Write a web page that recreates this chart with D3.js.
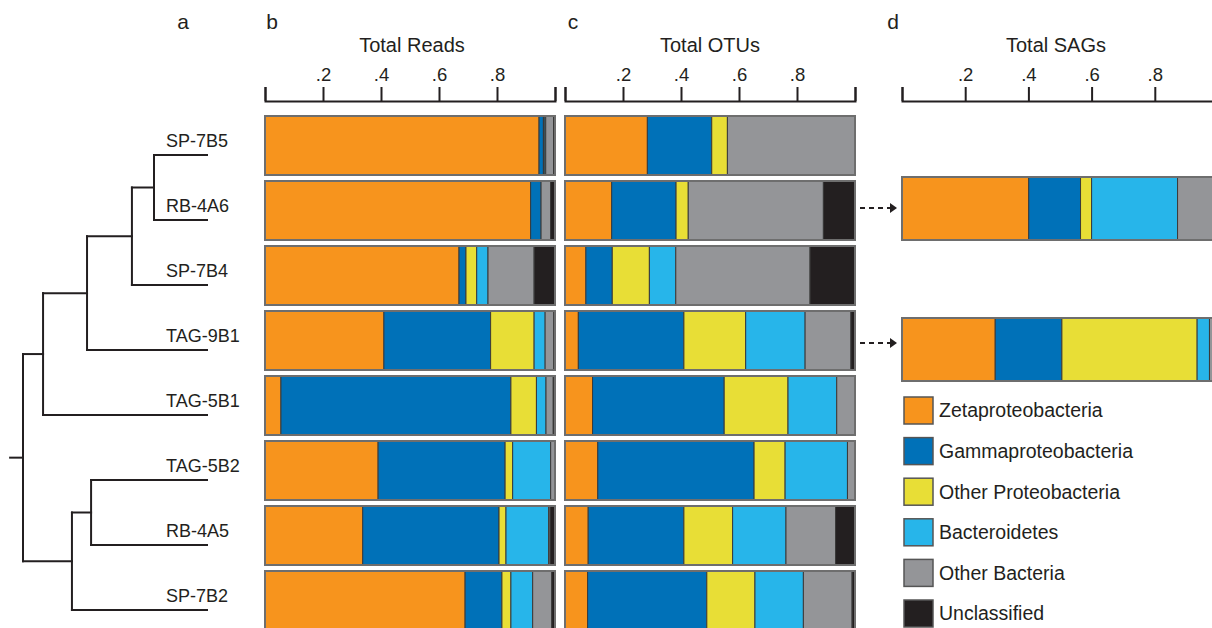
<!DOCTYPE html>
<html><head><meta charset="utf-8">
<script src="https://cdn.jsdelivr.net/npm/d3@7"></script>
<style>body{margin:0;background:#fff}svg{display:block;font-family:"Liberation Sans",Arial,Helvetica,sans-serif}</style>
</head><body><svg id="chart" width="1212" height="628"></svg>
<script>
// ---------------- data ----------------
const samples = ["SP-7B5","RB-4A6","SP-7B4","TAG-9B1","TAG-5B1","TAG-5B2","RB-4A5","SP-7B2"];
const groups = ["Zetaproteobacteria","Gammaproteobacteria","Other Proteobacteria","Bacteroidetes","Other Bacteria","Unclassified"];
const groupColors = ["#F7941D","#0071B8","#E8DE36","#27B5EA","#949598","#231F20"];
const tickValues = [0, 0.2, 0.4, 0.6, 0.8, 1];
const tickLabels = ["", ".2", ".4", ".6", ".8", ""];

// Total Reads (panel b)
const readsZeta  = [0.945,0.916,0.669,0.410,0.055,0.390,0.337,0.690];
const readsGamma = [0.015,0.036,0.024,0.368,0.793,0.438,0.470,0.127];
const readsOProt = [0.003,0.000,0.037,0.150,0.088,0.026,0.024,0.031];
const readsBact  = [0.005,0.000,0.039,0.038,0.033,0.131,0.147,0.075];
const readsOBact = [0.027,0.033,0.159,0.030,0.025,0.015,0.005,0.066];
const readsUncl  = [0.005,0.015,0.072,0.004,0.006,0.000,0.017,0.011];

// Total OTUs (panel c)
const otuZeta  = [0.284,0.161,0.072,0.046,0.095,0.113,0.080,0.078];
const otuGamma = [0.222,0.222,0.091,0.364,0.454,0.539,0.330,0.411];
const otuOProt = [0.054,0.042,0.128,0.213,0.220,0.107,0.168,0.166];
const otuBact  = [0.000,0.000,0.091,0.205,0.168,0.215,0.184,0.167];
const otuOBact = [0.440,0.466,0.463,0.158,0.063,0.026,0.171,0.168];
const otuUncl  = [0.000,0.109,0.155,0.014,0.000,0.000,0.067,0.010];

// Total SAGs (panel d)
const sagSamples = ["RB-4A6","TAG-9B1"];
const sagZeta  = [0.401,0.295];
const sagGamma = [0.164,0.211];
const sagOProt = [0.035,0.428];
const sagBact  = [0.272,0.039];
const sagOBact = [0.128,0.027];
const sagUncl  = [0.000,0.000];

// Dendrogram (panel a): node, parent, relative branch position (root 0, leaves 1)
const treeIds     = ["root","n1","n2","n3","n4","SP-7B5","RB-4A6","SP-7B4","TAG-9B1","TAG-5B1","n5","n6","TAG-5B2","RB-4A5","SP-7B2"];
const treeParents = ["","root","n1","n2","n3","n4","n4","n3","n2","n1","root","n5","n6","n6","n5"];
const treeDist    = [0,0.109,0.348,0.592,0.712,1,1,1,1,1,0.266,0.370,1,1,1];

// ---------------- layout ----------------
const svg = d3.select("#chart");
const ink = "#231F20";
const axisY = 101;

const y = d3.scaleBand().domain(samples).range([116, 116 + 8*65 - 6]).paddingInner(6/65).paddingOuter(0);
const xB = d3.scaleLinear().domain([0,1]).range([265,555]);
const xC = d3.scaleLinear().domain([0,1]).range([565,855]);
const xD = d3.scaleLinear().domain([0,1]).range([902,1218]);
const color = d3.scaleOrdinal().domain(groups).range(groupColors);

function rows(names, arrs){
  return names.map((s,i)=>{ const o={sample:s}; groups.forEach((g,k)=>o[g]=arrs[k][i]); return o; });
}
const stack = d3.stack().keys(groups);

function drawAxis(x, title, cx){
  const g = svg.append("g").attr("transform",`translate(0,${axisY})`)
    .call(d3.axisTop(x).tickValues(tickValues).tickSize(14).tickSizeOuter(14).tickPadding(6)
      .tickFormat((d,i)=>tickLabels[i]));
  g.select(".domain").attr("stroke",ink).attr("stroke-width",2);
  g.selectAll(".tick line").attr("stroke",ink).attr("stroke-width",2);
  g.selectAll(".tick text").attr("fill",ink).attr("font-size",18.5).attr("font-family",'"Liberation Sans",Arial,sans-serif');
  svg.append("text").attr("x",cx).attr("y",52).attr("text-anchor","middle")
    .attr("font-size",20).attr("fill",ink).text(title);
}

function drawBars(x, data, yTop, h){
  const series = stack(data);
  const g = svg.append("g");
  series.forEach(s=>{
    g.selectAll(null).data(s.filter(d=>d[1]-d[0]>0.0005)).enter().append("rect")
      .attr("x",d=>x(d[0])).attr("width",d=>x(d[1])-x(d[0]))
      .attr("y",d=>yTop(d.data.sample)).attr("height",h)
      .attr("fill",color(s.key)).attr("stroke","#3a3a3a").attr("stroke-width",1);
  });
  g.selectAll(null).data(data).enter().append("rect")
    .attr("x",x(0)).attr("width",x(1)-x(0))
    .attr("y",d=>yTop(d.sample)).attr("height",h)
    .attr("fill","none").attr("stroke","#6e6e6e").attr("stroke-width",2);
}

// panel letters
[["a",183],["b",272],["c",573],["d",893]].forEach(([t,x])=>{
  svg.append("text").attr("x",x).attr("y",29).attr("text-anchor","middle").attr("font-size",21).attr("fill",ink).text(t);
});

drawAxis(xB,"Total Reads",412);
drawAxis(xC,"Total OTUs",710);
drawAxis(xD,"Total SAGs",1056);

drawBars(xB, rows(samples,[readsZeta,readsGamma,readsOProt,readsBact,readsOBact,readsUncl]), s=>y(s), y.bandwidth());
drawBars(xC, rows(samples,[otuZeta,otuGamma,otuOProt,otuBact,otuOBact,otuUncl]), s=>y(s), y.bandwidth());

// SAG bars sit next to their OTU row
const sagOffset = {"RB-4A6":-4, "TAG-9B1":7};
drawBars(xD, rows(sagSamples,[sagZeta,sagGamma,sagOProt,sagBact,sagOBact,sagUncl]), s=>y(s)+sagOffset[s], 63);

// dashed arrows
const arrowOffset = {"RB-4A6":-2.5, "TAG-9B1":2.5};
sagSamples.forEach(s=>{
  const ay = y(s) + y.bandwidth()/2 + arrowOffset[s];
  svg.append("line").attr("x1",xC(1)+5).attr("x2",xD(0)-12).attr("y1",ay).attr("y2",ay)
    .attr("stroke",ink).attr("stroke-width",2).attr("stroke-dasharray","5,4");
  svg.append("path").attr("d",`M${xD(0)-12},${ay-5}L${xD(0)-5},${ay}L${xD(0)-12},${ay+5}Z`).attr("fill",ink);
});

// legend
const lg = svg.append("g");
groups.forEach((gname,i)=>{
  const ty = 397 + i*40.6;
  lg.append("rect").attr("x",904).attr("y",ty).attr("width",29).attr("height",27)
    .attr("fill",groupColors[i]).attr("stroke","#555").attr("stroke-width",1.5);
  lg.append("text").attr("x",939).attr("y",ty+13.5).attr("dy","0.35em").attr("font-size",19.5)
    .attr("fill",ink).text(gname);
});

// dendrogram
const root = d3.stratify().id((d,i)=>treeIds[i]).parentId((d,i)=>treeParents[i]||null)(treeIds.map((id,i)=>({id,dist:treeDist[i]})));
const xT = d3.scaleLinear().domain([0,1]).range([23,207]);
const leafY = s => y(s) + y.bandwidth()/2 + 9.5;
root.eachAfter(n=>{
  n.px = xT(n.data.dist);
  if(!n.children){ n.py = leafY(n.id); }
  else { n.py = d3.mean([n.children[0].py, n.children[n.children.length-1].py]); }
});
const tg = svg.append("g").attr("stroke",ink).attr("stroke-width",2).attr("fill","none").attr("stroke-linecap","square");
root.each(n=>{
  if(n.children){
    const ys = n.children.map(c=>c.py);
    tg.append("line").attr("x1",n.px).attr("x2",n.px).attr("y1",d3.min(ys)).attr("y2",d3.max(ys));
    n.children.forEach(c=>{
      tg.append("line").attr("x1",n.px).attr("x2",c.px).attr("y1",c.py).attr("y2",c.py);
    });
  }
});
tg.append("line").attr("x1",xT(-0.07)).attr("x2",root.px).attr("y1",root.py).attr("y2",root.py);
root.leaves().forEach(l=>{
  svg.append("text").attr("x",166).attr("y",l.py-8).attr("font-size",18).attr("fill",ink).text(l.id);
});
</script></body></html>
